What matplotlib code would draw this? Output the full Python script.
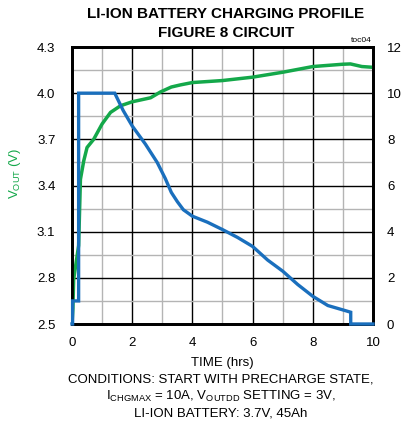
import matplotlib
matplotlib.use("Agg")
import matplotlib.pyplot as plt
import numpy as np

plt.rcParams['font.family'] = ['Liberation Sans', 'DejaVu Sans']

# Data
time_v = [0.0, 0.03, 0.055, 0.22, 0.28, 0.39, 0.5, 0.72, 1.0, 1.28, 1.61, 2.0, 2.61, 2.94, 3.3, 3.61,
          4.0, 5.0, 6.0, 7.0, 8.0, 9.0, 9.25, 9.63, 10.0]
vout = [2.5, 2.6, 2.79, 3.01, 3.44, 3.56, 3.647, 3.70, 3.80, 3.875, 3.918, 3.944, 3.97, 4.008, 4.04, 4.054,
        4.069, 4.082, 4.104, 4.136, 4.173, 4.188, 4.19, 4.173, 4.168]

time_i = [0.0, 0.02, 0.02, 0.22, 0.22, 1.42, 1.7, 2.0, 2.44, 2.83, 3.1, 3.3, 3.5, 3.7, 4.0, 4.5, 5.0,
          5.5, 6.0, 6.5, 7.0, 7.5, 8.0, 8.5, 9.0, 9.26, 9.26, 10.0]
current = [0.0, 0.0, 1.0, 1.0, 10.0, 10.0, 9.25, 8.58, 7.79, 7.0, 6.3, 5.7, 5.3, 4.95, 4.67, 4.41, 4.09,
           3.75, 3.36, 2.77, 2.29, 1.71, 1.2, 0.8, 0.61, 0.51, 0.0, 0.0]

xticks = [0, 2, 4, 6, 8, 10]
yticks_v = [2.5, 2.8, 3.1, 3.4, 3.7, 4.0, 4.3]
yticks_i = [0, 2, 4, 6, 8, 10, 12]

green = '#14a84a'
blue = '#1a6fbd'

fig = plt.figure(figsize=(4.02, 4.23), dpi=100)
ax = fig.add_axes([72/402, 1-324/423, (373-72)/402, (324-47)/423])
ax.set_xlim(0, 10)
ax.set_ylim(2.5, 4.3)

# grid
for x in np.arange(1, 10, 1):
    ax.axvline(x, color='black' if x % 2 == 0 else '#b4b4b4', lw=1.0, zorder=1)
for y in np.arange(2.65, 4.3, 0.15):
    major = abs(((y - 2.5) / 0.3) - round((y - 2.5) / 0.3)) < 1e-6
    ax.axhline(y, color='black' if major else '#b4b4b4', lw=1.0, zorder=1)

ax.plot(time_v, vout, color=green, lw=2.5, zorder=3, solid_joinstyle='round')
ax.set_xticks(xticks)
ax.set_xticklabels([str(t) for t in xticks], fontsize=9.5)
ax.set_yticks(yticks_v)
ax.set_yticklabels([f"{v:.1f}" for v in yticks_v], fontsize=9.5)
ax.tick_params(axis='y', length=0, pad=12)
ax.tick_params(axis='x', length=0, pad=9)
for s in ax.spines.values():
    s.set_linewidth(2.0)

ax2 = ax.twinx()
ax2.set_ylim(0, 12)
ax2.set_yticks(yticks_i)
ax2.set_yticklabels([str(v) for v in yticks_i], fontsize=9.5)
ax2.tick_params(length=0, pad=10)
for s in ax2.spines.values():
    s.set_linewidth(2.0)
ax2.plot(time_i, current, color=blue, lw=2.4, zorder=4, clip_on=False, solid_joinstyle='miter')

ax.set_ylabel(r'V$_{\mathregular{OUT}}$ (V)', color=green, fontsize=9.5)
ax.yaxis.set_label_coords(-0.163, 0.545)
ax.set_xlabel('TIME (hrs)', fontsize=9.5, labelpad=6)

fig.text(226/402, 1-14/423, 'LI-ION BATTERY CHARGING PROFILE', ha='center', va='center',
         fontsize=11, fontweight='bold')
fig.text(226/402, 1-33/423, 'FIGURE 8 CIRCUIT', ha='center', va='center',
         fontsize=11, fontweight='bold')
fig.text(372/402, 1-40/423, 'toc04', ha='right', va='center', fontsize=6)

fig.text(221/402, 1-379/423, 'CONDITIONS: START WITH PRECHARGE STATE,', ha='center', va='center', fontsize=9.5)
fig.text(221/402, 1-396/423, r'I$_{\mathregular{CHGMAX}}$ = 10A, V$_{\mathregular{OUTDD}}$ SETTING = 3V,',
         ha='center', va='center', fontsize=9.5)
fig.text(221/402, 1-413/423, 'LI-ION BATTERY: 3.7V, 45Ah', ha='center', va='center', fontsize=9.5)

fig.savefig('out.png', dpi=100)
